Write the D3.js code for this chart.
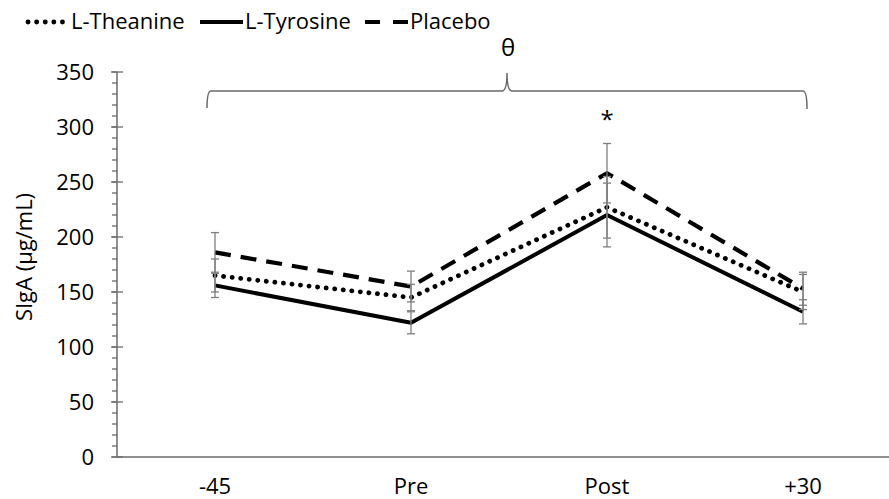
<!DOCTYPE html>
<html>
<head>
<meta charset="utf-8">
<script src="https://cdn.jsdelivr.net/npm/d3@7"></script>
<style>
  body { margin: 0; background: #fff; }
  text { font-family: "Open Sans", sans-serif; }
</style>
</head>
<body>
<div id="chart"></div>
<script>
'use strict';

// data
var timepoints = ["-45", "Pre", "Post", "+30"];
var theanine = [165, 145, 227, 150];
var theanineErr = [15, 12, 28, 16];
var tyrosine = [156, 122, 220, 132];
var tyrosineErr = [11, 10, 29, 11];
var placebo = [186, 155, 258, 153];
var placeboErr = [18, 14, 27, 15];
var yTicks = [0, 50, 100, 150, 200, 250, 300, 350];

var series = [
  {name: "L-Theanine", values: theanine, err: theanineErr, dash: "0.1 8.5", width: 4.8, cap: "round"},
  {name: "L-Tyrosine", values: tyrosine, err: tyrosineErr, dash: null, width: 4, cap: "butt"},
  {name: "Placebo", values: placebo, err: placeboErr, dash: "16 10", width: 4.2, cap: "butt"}
];

var W = 889, H = 499;
var svg = d3.select("#chart").append("svg")
  .attr("width", W)
  .attr("height", H);

var x = d3.scaleBand()
  .domain(timepoints)
  .range([117, 901]);

var y = d3.scaleLinear()
  .domain([0, 350])
  .range([457, 72]);

var cx = function(i) { return x(timepoints[i]) + x.bandwidth() / 2; };
var axisColor = "#6b6b6b";

//y axis: minor ticks every 10, majors cross the line
var ag = svg.append("g");
ag.selectAll(".minor")
  .data(d3.range(0, 351, 10))
  .join("line")
  .attr("x1", 112).attr("x2", 117)
  .attr("y1", d => y(d)).attr("y2", d => y(d))
  .attr("stroke", axisColor).attr("stroke-width", 1.3);
ag.selectAll(".major")
  .data(yTicks)
  .join("line")
  .attr("x1", 111).attr("x2", 123)
  .attr("y1", d => y(d)).attr("y2", d => y(d))
  .attr("stroke", axisColor).attr("stroke-width", 1.3);
ag.append("line")
  .attr("x1", 117).attr("x2", 117)
  .attr("y1", y(350)).attr("y2", y(0))
  .attr("stroke", axisColor).attr("stroke-width", 1.5);
ag.selectAll(".ylab")
  .data(yTicks)
  .join("text")
  .attr("x", 94)
  .attr("y", d => y(d))
  .attr("dy", "0.36em")
  .attr("text-anchor", "end")
  .attr("font-size", 22)
  .text(d => d);

//x axis
ag.append("line")
  .attr("x1", 117).attr("x2", W)
  .attr("y1", y(0)).attr("y2", y(0))
  .attr("stroke", axisColor).attr("stroke-width", 1.5);
ag.selectAll(".xlab")
  .data(timepoints)
  .join("text")
  .attr("x", d => x(d) + x.bandwidth() / 2)
  .attr("y", 494)
  .attr("text-anchor", "middle")
  .attr("font-size", 22)
  .text(d => d);

svg.append("text")
  .attr("transform", "translate(32,257) rotate(-90)")
  .attr("text-anchor", "middle")
  .attr("font-size", 22)
  .text("SIgA (\u00b5g/mL)");

//lines
var line = d3.line()
  .x((d, i) => cx(i))
  .y(d => y(d));

series.forEach(function(s) {
  svg.append("path")
    .datum(s.values)
    .attr("fill", "none")
    .attr("stroke", "#000")
    .attr("stroke-width", s.width)
    .attr("stroke-linecap", s.cap)
    .attr("stroke-linejoin", "round")
    .attr("stroke-dasharray", s.dash)
    .attr("d", line);
});

//error bars
series.forEach(function(s) {
  var eg = svg.append("g").attr("stroke", "#7f7f7f").attr("stroke-width", 1.3);
  s.values.forEach(function(v, i) {
    var lo = y(v - s.err[i]), hi = y(v + s.err[i]);
    eg.append("line").attr("x1", cx(i)).attr("x2", cx(i)).attr("y1", lo).attr("y2", hi);
    eg.append("line").attr("x1", cx(i) - 4).attr("x2", cx(i) + 4).attr("y1", lo).attr("y2", lo);
    eg.append("line").attr("x1", cx(i) - 4).attr("x2", cx(i) + 4).attr("y1", hi).attr("y2", hi);
  });
});

//brace over all timepoints
var bl = cx(0) - 8, br = cx(3) + 4, bm = (bl + br) / 2, by = 91;
svg.append("path")
  .attr("fill", "none")
  .attr("stroke", "#6b6b6b")
  .attr("stroke-width", 1.5)
  .attr("d", "M" + bl + "," + (by + 17) + " Q" + bl + "," + by + " " + (bl + 4) + "," + by +
    " L" + (bm - 5) + "," + by + " Q" + bm + "," + by + " " + bm + "," + (by - 18) +
    " Q" + bm + "," + by + " " + (bm + 5) + "," + by +
    " L" + (br - 4) + "," + by + " Q" + br + "," + by + " " + br + "," + (by + 18));

svg.append("text")
  .attr("x", bm + 1)
  .attr("y", 56)
  .attr("text-anchor", "middle")
  .attr("font-family", "Liberation Serif, serif")
  .attr("font-size", 24)
  .text("\u03b8");

svg.append("text")
  .attr("x", cx(2))
  .attr("y", 128)
  .attr("text-anchor", "middle")
  .attr("font-family", "Liberation Serif, serif")
  .attr("font-size", 24)
  .text("*");

//legend
var legX = [26, 200, 365];
var lg = svg.append("g");
series.forEach(function(s, i) {
  var x0 = legX[i];
  lg.append("line")
    .attr("x1", s.cap === "round" ? x0 + 2 : x0)
    .attr("x2", x0 + 43)
    .attr("y1", 22).attr("y2", 22)
    .attr("stroke", "#000")
    .attr("stroke-width", s.width)
    .attr("stroke-linecap", s.cap)
    .attr("stroke-dasharray", s.dash === "16 10" ? "15 13" : s.dash);
  lg.append("text")
    .attr("x", x0 + 45)
    .attr("y", 29)
    .attr("font-size", 22)
    .text(s.name);
});
</script>
</body>
</html>
